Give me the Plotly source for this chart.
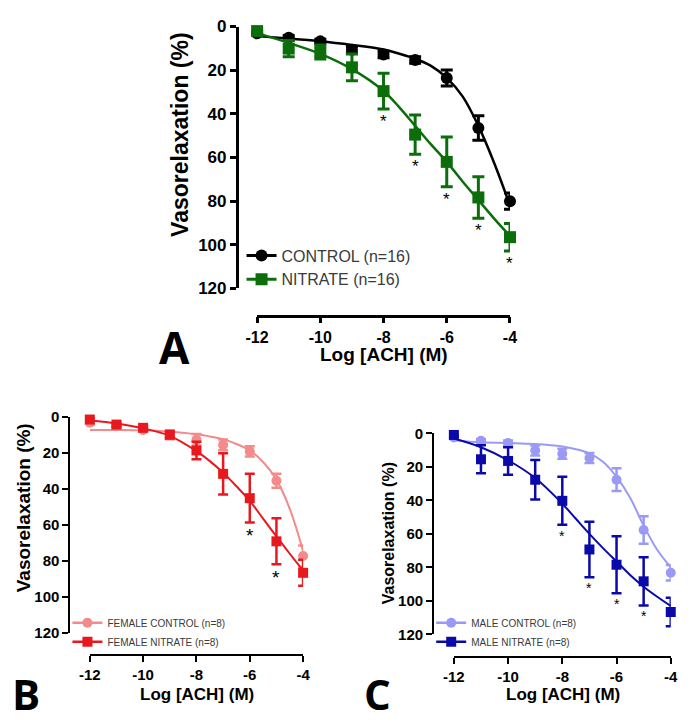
import plotly.graph_objects as go

W, H = 694, 725

# ---------------- data ----------------
log_ach = [-12, -11, -10, -9, -8, -7, -6, -5, -4]
x_ticks = [-12, -10, -8, -6, -4]
x_tick_labels = ["-12", "-10", "-8", "-6", "-4"]
y_ticks = [0, 20, 40, 60, 80, 100, 120]
y_tick_labels = ["0", "20", "40", "60", "80", "100", "120"]

ctrl_A = [3.1, 5.1, 6.8, 10.6, 12.8, 15.3, 23.6, 46.5, 80.0]
ctrl_A_sem = [1.0, 1.0, 1.0, 1.5, 1.5, 1.5, 3.7, 5.6, 3.7]
nit_A = [2.1, 10.1, 11.7, 18.7, 29.6, 49.5, 62.0, 78.3, 96.5]
nit_A_sem = [1.0, 3.7, 3.2, 6.1, 8.2, 9.0, 11.4, 9.5, 6.3]

fem_ctrl = [3.2, 5.0, 7.2, 9.9, 12.6, 15.5, 19.1, 35.4, 77.3]
fem_ctrl_sem = [1.0, 1.0, 1.0, 2.5, 3.2, 3.0, 2.9, 3.9, 5.9]
fem_nit = [1.4, 4.2, 6.0, 9.9, 18.6, 31.6, 45.1, 69.1, 86.6]
fem_nit_sem = [1.0, 1.0, 1.0, 1.5, 4.9, 11.5, 13.5, 12.8, 7.2]

male_ctrl = [2.5, 4.5, 5.8, 10.3, 12.2, 14.7, 27.7, 57.7, 83.2]
male_ctrl_sem = [1.0, 1.0, 1.5, 3.0, 3.0, 3.0, 6.8, 8.2, 4.6]
male_nit = [1.0, 15.5, 16.5, 27.7, 40.3, 69.3, 78.4, 88.3, 106.6]
male_nit_sem = [1.0, 8.4, 8.2, 11.8, 14.3, 16.6, 17.0, 14.4, 8.5]

# fitted curves
curve_x = [-12, -11, -10, -9, -8, -7.5, -7, -6.5, -6, -5.5, -5, -4.5, -4]
fit_ctrl_A = [4.4, 5.5, 6.7, 8.4, 10.5, 12.5, 14.8, 18.0, 23.5, 32.0, 45.5, 62.5, 82.0]
fit_nit_A = [3.0, 7.5, 12.5, 19.5, 29.5, 37.0, 45.5, 54.0, 62.0, 71.0, 79.5, 88.0, 96.0]
fit_fem_ctrl = [7.2, 7.2, 7.4, 8.2, 9.6, 10.8, 12.3, 15.0, 18.6, 25.0, 34.8, 51.0, 74.5]
fit_fem_nit = [1.8, 3.6, 6.3, 10.5, 19.0, 24.5, 30.9, 38.5, 46.6, 56.5, 66.4, 76.0, 85.4]
fit_male_ctrl = [4.1, 5.4, 5.8, 6.4, 7.9, 9.5, 12.0, 17.0, 26.0, 38.5, 55.0, 69.5, 80.0]
fit_male_nit = [3.1, 8.3, 16.1, 26.7, 42.0, 51.0, 60.0, 68.5, 76.5, 84.5, 91.5, 97.5, 103.0]

sig_A = [-8, -7, -6, -5, -4]
sig_B = [-6, -5]
sig_C = [-8, -7, -6, -5]

names_A = ["CONTROL (n=16)", "NITRATE (n=16)"]
names_B = ["FEMALE CONTROL (n=8)", "FEMALE NITRATE (n=8)"]
names_C = ["MALE CONTROL (n=8)", "MALE NITRATE (n=8)"]

# ---------------- helpers ----------------
def px(x):
    return x / W

def py(y):
    return 1 - y / H

FONT = "Liberation Sans"
fig = go.Figure()

def add_series(xa, ya, legend, name, y, sem, fit, color, symbol, msize, ebw, ebcap, lw):
    fig.add_trace(go.Scatter(
        x=curve_x, y=fit, mode="lines", line=dict(color=color, width=lw, shape="spline", smoothing=1.0),
        xaxis=xa, yaxis=ya, showlegend=False, hoverinfo="skip"))
    fig.add_trace(go.Scatter(
        x=log_ach, y=y, mode="markers",
        marker=dict(color=color, symbol=symbol, size=msize, line=dict(width=0)),
        error_y=dict(type="data", array=sem, visible=True, color=color, thickness=ebw, width=ebcap),
        xaxis=xa, yaxis=ya, showlegend=False, cliponaxis=False))
    fig.add_trace(go.Scatter(
        x=[None], y=[None], mode="lines+markers", name=name,
        line=dict(color=color, width=lw + 0.5),
        marker=dict(color=color, symbol=symbol, size=msize),
        xaxis=xa, yaxis=ya, legend=legend, showlegend=True))

def add_stars(xref, yref, sig, y, sem, size, shift):
    for xv in sig:
        i = log_ach.index(xv)
        fig.add_annotation(x=xv, y=y[i] + sem[i], xref=xref, yref=yref, text="*",
                           showarrow=False, yanchor="top", yshift=-shift,
                           font=dict(family=FONT, size=size, color="black"))

# Panel A
add_series("x", "y", "legend", names_A[0], ctrl_A, ctrl_A_sem, fit_ctrl_A, "#000000", "circle", 12, 3, 6, 2.5)
add_series("x", "y", "legend", names_A[1], nit_A, nit_A_sem, fit_nit_A, "#0B6E0B", "square", 12, 3, 6, 2.5)
add_stars("x", "y", sig_A, nit_A, nit_A_sem, 17, 1)

# Panel B
add_series("x2", "y2", "legend2", names_B[0], fem_ctrl, fem_ctrl_sem, fit_fem_ctrl, "#F38A8C", "circle", 10, 2.5, 5, 2)
add_series("x2", "y2", "legend2", names_B[1], fem_nit, fem_nit_sem, fit_fem_nit, "#E8191E", "square", 10, 2.5, 5, 2)
add_stars("x2", "y2", sig_B, fem_nit, fem_nit_sem, 19, 1)

# Panel C
add_series("x3", "y3", "legend3", names_C[0], male_ctrl, male_ctrl_sem, fit_male_ctrl, "#9A9AF5", "circle", 10, 2.5, 5, 2)
add_series("x3", "y3", "legend3", names_C[1], male_nit, male_nit_sem, fit_male_nit, "#0A0AAA", "square", 10, 2.5, 5, 2)
add_stars("x3", "y3", sig_C, male_nit, male_nit_sem, 14, 1)

def xaxis_cfg(x0, x1, yline, fsize, lw):
    return dict(domain=[px(x0), px(x1)], range=[-12, -4], anchor="free", position=py(yline),
                tickvals=x_ticks, ticktext=x_tick_labels, ticks="outside", ticklen=6, tickwidth=lw,
                tickcolor="black", showline=True, linecolor="black", linewidth=lw, showgrid=False,
                zeroline=False, tickfont=dict(family=FONT, size=fsize, color="black", weight="bold"))

def yaxis_cfg(y0, y120, xline, fsize, lw):
    return dict(domain=[py(y120), py(y0)], range=[120, 0], anchor="free", position=px(xline),
                tickvals=y_ticks, ticktext=y_tick_labels, ticks="outside", ticklen=6, tickwidth=lw,
                tickcolor="black", showline=True, linecolor="black", linewidth=lw, showgrid=False,
                zeroline=False, tickfont=dict(family=FONT, size=fsize, color="black", weight="bold"))

layout = dict(
    width=W, height=H, margin=dict(l=0, r=0, t=0, b=0),
    paper_bgcolor="white", plot_bgcolor="rgba(0,0,0,0)",
    xaxis=xaxis_cfg(252, 512, 315, 16, 2.5),
    yaxis=yaxis_cfg(18, 287, 231, 17, 2.5),
    xaxis2=xaxis_cfg(80, 299.3, 663, 15, 2),
    yaxis2=yaxis_cfg(419, 640.7, 59, 15, 2),
    xaxis3=xaxis_cfg(454.3, 677.3, 665, 15, 2),
    yaxis3=yaxis_cfg(435.7, 642.3, 433, 15, 2),
    legend=dict(x=px(236), y=py(265.5), xanchor="left", yanchor="middle", bgcolor="rgba(0,0,0,0)",
                font=dict(family=FONT, size=16, color="#3a3a3a"), tracegroupgap=0),
    legend2=dict(x=px(57), y=py(640), xanchor="left", yanchor="middle", bgcolor="rgba(0,0,0,0)",
                 font=dict(family=FONT, size=10, color="#3a3a3a"), tracegroupgap=0),
    legend3=dict(x=px(431), y=py(640), xanchor="left", yanchor="middle", bgcolor="rgba(0,0,0,0)",
                 font=dict(family=FONT, size=10, color="#3a3a3a"), tracegroupgap=0),
    showlegend=True,
)
fig.update_layout(**layout)

def text(x, y, s, size, angle=0, family=FONT):
    fig.add_annotation(x=px(x), y=py(y), xref="paper", yref="paper", text=s, showarrow=False,
                       xanchor="center", yanchor="middle", textangle=angle,
                       font=dict(family=family, size=size, color="black", weight="bold"))

# axis titles
text(382, 355, "Log [ACH] (M)", 19)
text(172, 129, "Vasorelaxation (%)", 23, -90)
text(190, 704, "Log [ACH] (M)", 17)
text(12, 512, "Vasorelaxation (%)", 19, -90)
text(566, 704, "Log [ACH] (M)", 17)
text(387, 538, "Vasorelaxation (%)", 16, -90)

# panel letters
text(167, 347, "A", 44, family="Open Sans")
text(14, 703, "B", 42, family="Open Sans")
text(376, 703, "C", 42, family="Open Sans")

fig.write_html("out.html", config={"displayModeBar": False},
               post_script="document.body.style.margin='0px';document.body.style.overflow='hidden';")
